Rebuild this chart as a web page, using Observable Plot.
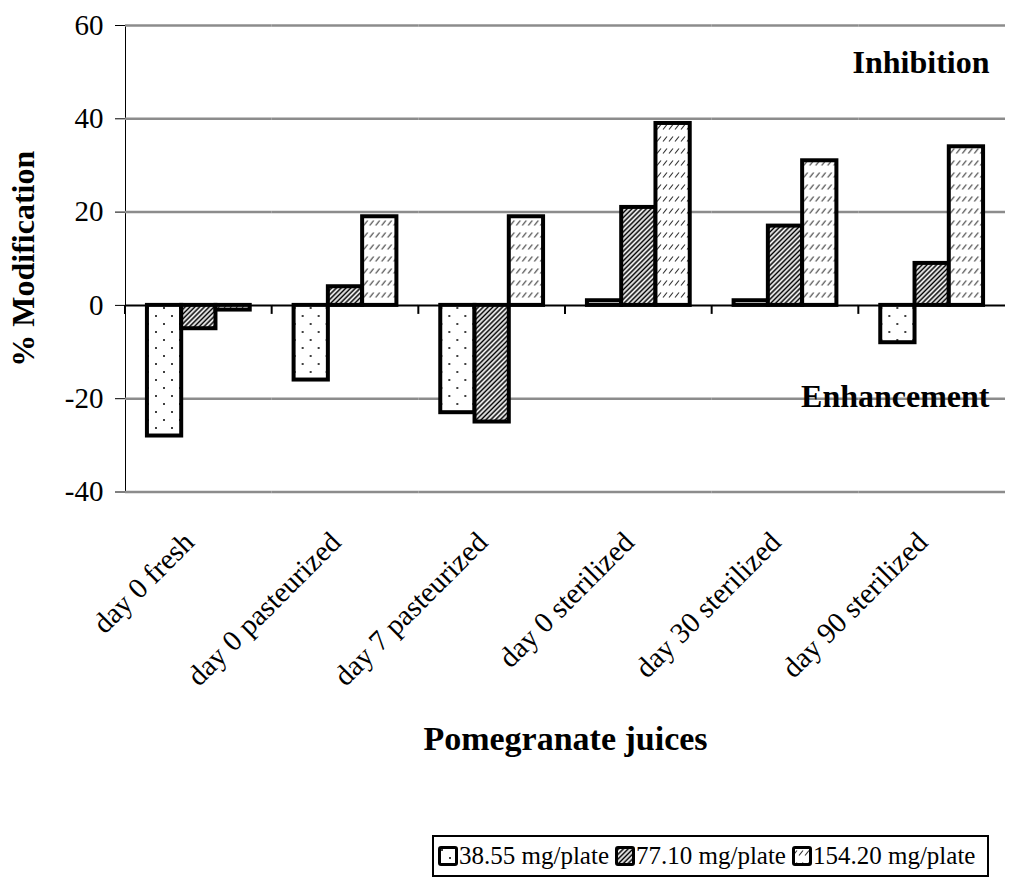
<!DOCTYPE html>
<html>
<head>
<meta charset="utf-8">
<script src="https://cdn.jsdelivr.net/npm/d3@7"></script>
<script src="https://cdn.jsdelivr.net/npm/@observablehq/plot@0.6"></script>
<style>
  body { margin: 0; background: #fff; }
  #chart svg { display: block; }
  #legend {
    position: absolute; left: 432px; top: 835px;
    width: 549px; height: 38px;
    border: 2px solid #000;
    font-family: "Liberation Serif", "DejaVu Serif", serif;
    font-size: 25px; line-height: 38px; white-space: nowrap;
    padding-left: 4px; box-sizing: content-box;
  }
  #legend .item { display: inline-flex; align-items: center; margin-right: 6px; }
  #legend svg { margin-right: 1px; }
</style>
</head>
<body>
<div id="chart"></div>
<div id="legend"></div>
<script>
// ---------- data ----------
const categories = ["day 0 fresh", "day 0 pasteurized", "day 7 pasteurized", "day 0 sterilized", "day 30 sterilized", "day 90 sterilized"];
const series = ["38.55 mg/plate", "77.10 mg/plate", "154.20 mg/plate"];
const values38 = [-28, -16, -23, 1, 1, -8];
const values77 = [-5, 4, -25, 21, 17, 9];
const values154 = [-1, 19, 19, 39, 31, 34];
const yTicks = [-40, -20, 0, 20, 40, 60];
const gridValues = [-40, -20, 20, 40, 60];
const xTitle = "Pomegranate juices";
const yTitle = "% Modification";
const annotations = [{text: "Inhibition", y: 52}, {text: "Enhancement", y: -19.5}];

const patternIds = ["pDots", "pHatch", "pDash"];
const seriesValues = [values38, values77, values154];
const rows = series.map((s, k) => categories.map((c, i) => ({cat: c, series: s, value: seriesValues[k][i]})));

const FONT = "'Liberation Serif', 'DejaVu Serif', serif";

function boundaryTicks(index, scales, values, dimensions) {
  const g = d3.create("svg:g");
  const y0 = scales.y(0);
  const x0 = dimensions.marginLeft;
  g.append("line").attr("x1", x0).attr("x2", x0).attr("y1", y0).attr("y2", y0 + 9)
    .attr("stroke", "#000").attr("stroke-width", 2);
  return g.node();
}

const chart = Plot.plot({
  width: 1012,
  height: 830,
  marginTop: 25,
  marginLeft: 125,
  marginRight: 7,
  marginBottom: 338.5,
  style: {fontFamily: FONT, fontSize: "29px", color: "#000", background: "transparent", overflow: "visible"},
  fx: {domain: categories, padding: 0, axis: null, round: false},
  x: {domain: series, paddingInner: 0, paddingOuter: 0.64, axis: null, round: false},
  y: {domain: [-40, 60], ticks: yTicks, tickSize: 10, tickPadding: 12, tickFormat: d => String(d), label: null, line: true},
  marks: [
    Plot.ruleY(gridValues, {stroke: "#8c8c8c", strokeWidth: 2.5}),
    Plot.ruleY([0], {stroke: "#000", strokeWidth: 2}),
    Plot.text(annotations, {fx: () => categories[5], y: "y", text: "text", frameAnchor: "right", textAnchor: "end", dx: -16, fontWeight: "bold", fontSize: 32, fontFamily: FONT}),
    ...rows.map((r, k) => Plot.barY(r, {fx: "cat", x: "series", y: "value", fill: `url(#${patternIds[k]})`, stroke: "#000", strokeWidth: 4})),
    boundaryTicks,
    Plot.text(categories, {fx: d => d, text: d => d, frameAnchor: "bottom", rotate: -45, textAnchor: "end", dx: -3, dy: 52, fontSize: 29, fontFamily: FONT}),
    Plot.text([categories[2]], {fx: d => d, text: () => xTitle, frameAnchor: "bottom-right", textAnchor: "middle", dy: 258, fontWeight: "bold", fontSize: 34, fontFamily: FONT}),
    Plot.text([categories[0]], {fx: d => d, text: () => yTitle, frameAnchor: "left", rotate: -90, textAnchor: "middle", dx: -102, fontWeight: "bold", fontSize: 32, fontFamily: FONT})
  ]
});

const defsMarkup = `
<pattern id="pDots" width="16" height="16" patternUnits="userSpaceOnUse">
  <rect width="16" height="16" fill="#fff"/>
  <circle cx="4" cy="4" r="1" fill="#000"/>
  <circle cx="12" cy="12" r="1" fill="#000"/>
</pattern>
<pattern id="pHatch" width="3.4" height="6" patternUnits="userSpaceOnUse" patternTransform="rotate(45)">
  <rect width="3.4" height="6" fill="#fff"/>
  <line x1="1.2" y1="0" x2="1.2" y2="6" stroke="#000" stroke-width="1.6"/>
</pattern>
<pattern id="pDash" width="6" height="12" patternUnits="userSpaceOnUse">
  <rect width="6" height="12" fill="#fff"/>
  <line x1="1" y1="9.5" x2="5" y2="4.5" stroke="#333" stroke-width="1.2"/>
</pattern>`;
d3.select(chart).insert("defs", ":first-child").html(defsMarkup);
document.getElementById("chart").appendChild(chart);

// ---------- legend ----------
const legend = d3.select("#legend");
series.forEach((s, k) => {
  const item = legend.append("span").attr("class", "item");
  const sw = item.append("svg").attr("width", 20).attr("height", 20);
  sw.append("rect").attr("x", 1.5).attr("y", 1.5).attr("width", 17).attr("height", 17).attr("rx", 1.5)
    .attr("fill", `url(#${patternIds[k]})`).attr("stroke", "#000").attr("stroke-width", 3);
  item.append("span").text(s);
});
</script>
</body>
</html>
